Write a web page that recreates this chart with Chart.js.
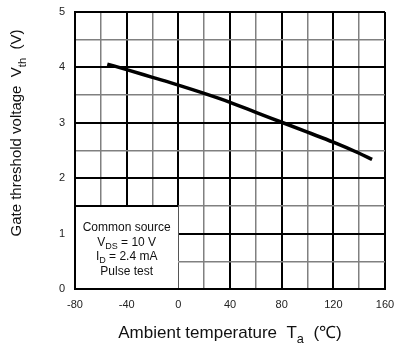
<!DOCTYPE html>
<html>
<head>
<meta charset="utf-8">
<script src="https://cdn.jsdelivr.net/npm/chart.js@4.4.0/dist/chart.umd.min.js"></script>
<style>
  body { margin: 0; background: #fff; }
  #wrap { width: 400px; height: 347px; }
</style>
</head>
<body>
<div id="wrap"><canvas id="chart"></canvas></div>
<script>
// values
const temps = [-55, -40, -20, 0, 20, 40, 60, 80, 100, 120, 140, 150];
const vth = [4.06, 3.96, 3.82, 3.68, 3.53, 3.37, 3.19, 3.01, 2.83, 2.65, 2.45, 2.34];
const xTicks = [-80, -40, 0, 40, 80, 120, 160];
const yTicks = [0, 1, 2, 3, 4, 5];
const noteLines = [
  [['Common source', '']],
  [['V', ''], ['DS', 'sub'], [' = 10 V', '']],
  [['I', ''], ['D', 'sub'], [' = 2.4 mA', '']],
  [['Pulse test', '']]
];

const FONT = '"Liberation Sans", Arial, sans-serif';

// draw a line of text made of normal / subscript pieces, centred at x
const drawRich = (ctx, parts, x, y, size) => {
  const subSize = size * 0.75;
  let total = 0;
  parts.forEach(p => {
    ctx.font = `${p[1] ? subSize : size}px ${FONT}`;
    total += ctx.measureText(p[0]).width;
  });
  let cx = x - total / 2;
  parts.forEach(p => {
    ctx.font = `${p[1] ? subSize : size}px ${FONT}`;
    ctx.fillText(p[0], cx, p[1] ? y + size * 0.3 : y);
    cx += ctx.measureText(p[0]).width;
  });
};

const extras = {
  id: 'extras',
  beforeDatasetsDraw(chart) {
    const { ctx, scales: { x, y } } = chart;
    const l = x.getPixelForValue(-80), r = x.getPixelForValue(0);
    const t = y.getPixelForValue(1.5), b = y.getPixelForValue(0);
    ctx.save();
    ctx.fillStyle = '#fff';
    ctx.fillRect(l + 1, t, r - l - 1, b - t - 1);
    ctx.strokeStyle = '#000';
    ctx.lineWidth = 2;
    ctx.beginPath();
    ctx.moveTo(l, t);
    ctx.lineTo(r, t);
    ctx.stroke();
    ctx.fillStyle = '#111';
    ctx.textBaseline = 'middle';
    ctx.textAlign = 'left';
    const cx = x.getPixelForValue(-40);
    noteLines.forEach((line, i) => drawRich(ctx, line, cx, 228 + i * 14.5, 12));
    ctx.restore();
  },
  afterDraw(chart) {
    const { ctx } = chart;
    ctx.save();
    ctx.fillStyle = '#111';
    ctx.textBaseline = 'alphabetic';
    ctx.textAlign = 'left';
    drawRich(ctx, [['Ambient temperature  T', ''], ['a', 'sub'], ['  (\u2103)', '']], 230, 338, 17);
    ctx.translate(21, 133);
    ctx.rotate(-Math.PI / 2);
    drawRich(ctx, [['Gate threshold voltage  V', ''], ['th', 'sub'], ['  (V)', '']], 0, 0, 15);
    ctx.restore();
  }
};

const gridColor = major => c => (c.tick && major(c.tick.value)) ? '#000' : '#808080';
const gridWidth = major => c => (c.tick && major(c.tick.value)) ? 2 : 1.5;
const isMajorX = v => Math.abs(v % 40) < 1e-6;
const isMajorY = v => Math.abs(v % 1) < 1e-6;

new Chart(document.getElementById('chart'), {
  type: 'line',
  data: {
    datasets: [{
      data: temps.map((t, i) => ({ x: t, y: vth[i] })),
      borderColor: '#000',
      borderWidth: 3.5,
      pointRadius: 0,
      cubicInterpolationMode: 'monotone',
      fill: false
    }]
  },
  options: {
    responsive: true,
    maintainAspectRatio: false,
    animation: false,
    layout: { padding: { top: 12, right: 15, left: 0, bottom: 0 } },
    plugins: { legend: { display: false }, tooltip: { enabled: false } },
    scales: {
      x: {
        type: 'linear',
        min: -80, max: 160,
        afterFit: s => {
          s.height = 58;
          s.paddingLeft = 0;
          s.paddingRight = 0;
        },
        afterBuildTicks: s => {
          s.ticks = [];
          for (let v = -80; v <= 160; v += 20) s.ticks.push({ value: v });
        },
        ticks: {
          padding: 9,
          color: '#222',
          font: { family: FONT, size: 11 },
          maxRotation: 0,
          autoSkip: false,
          callback: v => xTicks.includes(v) ? v : ''
        },
        grid: { color: gridColor(isMajorX), lineWidth: gridWidth(isMajorX), drawTicks: false },
        border: { color: '#000', width: 2 }
      },
      y: {
        type: 'linear',
        min: 0, max: 5,
        afterFit: s => {
          s.width = 75;
          s.paddingTop = 0;
          s.paddingBottom = 0;
        },
        afterBuildTicks: s => {
          s.ticks = [];
          for (let v = 0; v <= 5; v += 0.5) s.ticks.push({ value: v });
        },
        ticks: {
          padding: 10,
          color: '#222',
          font: { family: FONT, size: 11 },
          autoSkip: false,
          callback: v => yTicks.includes(v) ? v : ''
        },
        grid: { color: gridColor(isMajorY), lineWidth: gridWidth(isMajorY), drawTicks: false },
        border: { color: '#000', width: 2 }
      }
    }
  },
  plugins: [extras]
});
</script>
</body>
</html>
